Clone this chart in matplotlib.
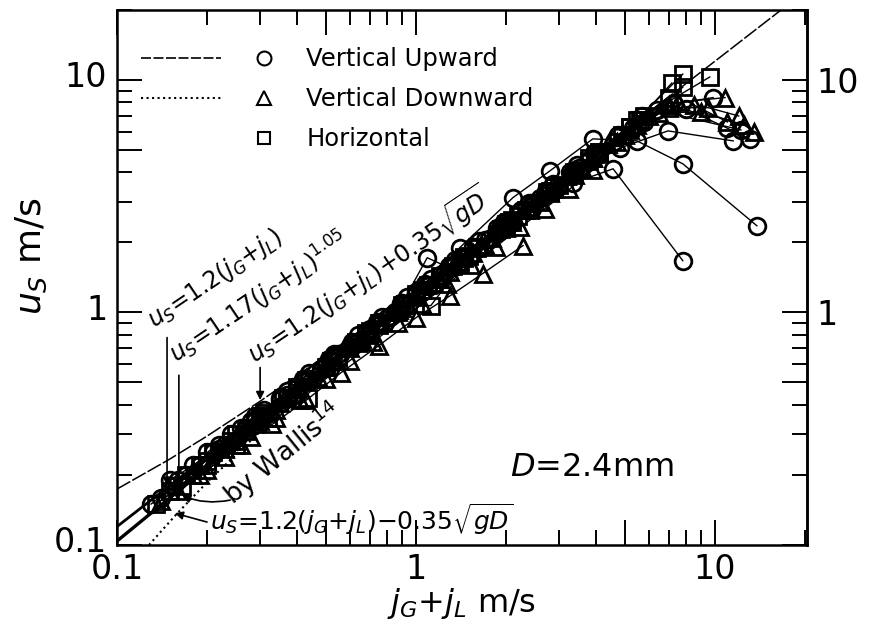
import matplotlib
matplotlib.use('Agg')
import matplotlib.pyplot as plt
import matplotlib.transforms as mtransforms
from matplotlib.lines import Line2D
from matplotlib.ticker import LogLocator, FuncFormatter, NullFormatter

# ---- correlation lines ----
j_plus = [0.1, 0.15, 0.2, 0.3, 0.5, 1.0, 2.0, 5.0, 10.0, 17.0]
us_plus = [0.174, 0.234, 0.294, 0.414, 0.654, 1.254, 2.454, 6.054, 12.05, 20.45]

j_12 = [0.1, 0.3, 1.0, 3.0, 7.0]
us_12 = [0.12, 0.36, 1.2, 3.6, 8.4]

j_wallis = [0.1, 0.3, 1.0, 3.0, 7.0]
us_wallis = [0.104, 0.331, 1.17, 3.33, 8.0]

j_minus = [0.128, 0.14, 0.16, 0.2, 0.3, 0.5, 1.0, 2.0, 5.0, 7.0]
us_minus = [0.1, 0.114, 0.138, 0.186, 0.306, 0.546, 1.146, 2.35, 5.95, 8.35]

# ---- measured data: vertical upward (circles) ----
up_x = [
    [0.14, 0.17, 0.21, 0.27, 0.35, 0.46, 0.6, 0.8, 1.05, 1.4, 1.85, 2.5, 3.35, 4.56, 7.8],
    [0.2, 0.28, 0.4, 0.55, 0.75, 1.0, 1.4, 2.11, 2.8, 3.9, 5.48, 7.8, 13.8],
    [0.3, 0.42, 0.6, 0.85, 1.2, 1.7, 2.4, 3.3, 4.81, 6.96, 11.5],
    [0.5, 0.7, 1.0, 1.4, 2.0, 2.8, 4.0, 5.8, 8.0, 11.0, 13.1],
    [0.9, 1.09, 1.3, 1.9, 2.7, 3.8, 5.3, 7.3, 9.85],
    [0.13, 0.155, 0.19, 0.23, 0.29, 0.37, 0.48, 0.63, 0.82, 1.1, 1.45, 1.95, 2.6, 3.5, 4.6],
    [0.16, 0.22, 0.31, 0.44, 0.62, 0.88, 1.25, 1.75, 2.45, 3.4, 4.7, 6.4, 12.2],
    [0.15, 0.18, 0.22, 0.26, 0.31, 0.37, 0.44, 0.53, 0.64, 0.77, 0.93, 1.12, 1.35, 1.63,
     1.97, 2.38, 2.87, 3.46],
    [0.24, 0.29, 0.35, 0.42, 0.51, 0.61, 0.74, 0.89, 1.07, 1.29, 1.55, 1.87, 2.25, 2.71,
     3.26, 3.93, 4.73, 5.7],
]
up_y = [
    [0.16, 0.2, 0.25, 0.32, 0.42, 0.55, 0.71, 0.95, 1.22, 1.65, 2.2, 2.95, 3.6, 4.15, 1.67],
    [0.25, 0.34, 0.48, 0.66, 0.9, 1.22, 1.9, 3.12, 4.06, 5.58, 5.47, 4.36, 2.36],
    [0.36, 0.5, 0.72, 1.0, 1.45, 2.05, 2.85, 3.9, 5.1, 6.04, 5.47],
    [0.6, 0.85, 1.2, 1.72, 2.4, 3.3, 4.7, 6.6, 7.5, 6.2, 5.55],
    [1.1, 1.72, 1.55, 2.25, 3.2, 4.5, 6.2, 7.9, 8.4],
    [0.15, 0.18, 0.22, 0.27, 0.34, 0.44, 0.57, 0.74, 0.97, 1.3, 1.72, 2.3, 3.1, 4.2, 5.4],
    [0.19, 0.26, 0.36, 0.52, 0.74, 1.04, 1.5, 2.08, 2.95, 4.1, 5.7, 7.4, 6.1],
    [0.19, 0.22, 0.27, 0.32, 0.38, 0.46, 0.55, 0.66, 0.8, 0.96, 1.16, 1.4, 1.68, 2.02,
     2.44, 2.95, 3.56, 4.3],
    [0.3, 0.36, 0.43, 0.52, 0.63, 0.75, 0.91, 1.1, 1.32, 1.59, 1.91, 2.3, 2.77, 3.34,
     4.0, 4.84, 5.8, 7.0],
]

# ---- measured data: vertical downward (triangles) ----
down_x = [
    [0.15, 0.2, 0.26, 0.33, 0.43, 0.56, 0.75, 1.0, 1.3, 1.67, 2.28],
    [0.18, 0.25, 0.35, 0.5, 0.7, 1.0, 1.4, 2.0, 2.8, 3.9, 5.5, 7.5, 10.8],
    [0.3, 0.45, 0.65, 0.9, 1.3, 1.8, 2.6, 3.6, 5.0, 7.0, 9.5, 12.0],
    [0.6, 0.85, 1.2, 1.7, 2.4, 3.4, 4.7, 6.5, 9.0, 12.5, 13.5],
    [0.14, 0.18, 0.23, 0.29, 0.38, 0.5, 0.66, 0.88, 1.15, 1.55, 2.1, 2.9, 3.9, 5.2, 7.0],
    [0.25, 0.34, 0.47, 0.64, 0.87, 1.2, 1.65, 2.3, 3.2, 4.4, 6.0, 8.5, 11.0],
    [0.16, 0.19, 0.23, 0.28, 0.34, 0.41, 0.5, 0.6, 0.72, 0.87, 1.05, 1.27, 1.53, 1.85,
     2.23, 2.7, 3.25, 3.9],
]
down_y = [
    [0.17, 0.21, 0.27, 0.33, 0.42, 0.55, 0.72, 0.95, 1.18, 1.47, 1.94],
    [0.21, 0.29, 0.41, 0.59, 0.82, 1.17, 1.62, 2.3, 3.25, 4.6, 6.4, 8.0, 8.4],
    [0.34, 0.52, 0.76, 1.05, 1.5, 2.1, 3.0, 4.2, 5.8, 7.6, 7.6, 7.0],
    [0.7, 1.0, 1.4, 1.95, 2.75, 3.9, 5.4, 7.2, 7.3, 6.4, 6.0],
    [0.155, 0.2, 0.26, 0.33, 0.44, 0.58, 0.77, 1.02, 1.34, 1.8, 2.45, 3.4, 4.6, 6.1, 7.8],
    [0.28, 0.38, 0.53, 0.74, 1.0, 1.4, 1.95, 2.75, 3.85, 5.3, 7.0, 7.8, 6.6],
    [0.17, 0.2, 0.24, 0.29, 0.35, 0.42, 0.52, 0.62, 0.75, 0.9, 1.09, 1.32, 1.6, 1.92,
     2.32, 2.8, 3.38, 4.1],
]

# ---- measured data: horizontal (squares) ----
hor_x = [
    [0.135, 0.165, 0.2, 0.25, 0.32, 0.435],
    [0.2, 0.27, 0.37, 0.5, 0.68, 0.92, 1.12, 1.5, 2.1, 2.9, 4.0, 5.5, 7.17],
    [0.4, 0.55, 0.75, 1.0, 1.4, 2.0, 2.8, 3.8, 5.2, 7.8],
    [0.7, 1.0, 1.45, 2.05, 2.9, 4.1, 5.8, 9.6],
    [0.15, 0.19, 0.24, 0.31, 0.4, 0.52, 0.68, 0.9, 1.2, 1.6, 2.2, 3.0, 4.1, 5.6, 7.8],
    [0.3, 0.4, 0.55, 0.75, 1.05, 1.45, 2.0, 2.75, 3.8, 5.2, 7.0],
    [0.17, 0.21, 0.25, 0.3, 0.36, 0.43, 0.52, 0.63, 0.76, 0.92, 1.1, 1.33, 1.6, 1.93,
     2.33, 2.8, 3.38, 4.08, 4.9],
]
hor_y = [
    [0.15, 0.18, 0.22, 0.27, 0.35, 0.43],
    [0.23, 0.31, 0.43, 0.58, 0.8, 1.08, 1.07, 1.75, 2.5, 3.5, 4.8, 6.7, 9.7],
    [0.47, 0.64, 0.88, 1.18, 1.65, 2.35, 3.3, 4.5, 6.3, 10.6],
    [0.83, 1.2, 1.72, 2.45, 3.45, 4.9, 7.0, 10.3],
    [0.17, 0.22, 0.28, 0.37, 0.48, 0.62, 0.82, 1.08, 1.44, 1.92, 2.6, 3.55, 4.9, 6.7, 9.3],
    [0.35, 0.47, 0.65, 0.9, 1.25, 1.74, 2.4, 3.3, 4.6, 6.3, 8.4],
    [0.2, 0.25, 0.3, 0.36, 0.43, 0.51, 0.62, 0.75, 0.9, 1.09, 1.31, 1.58, 1.9, 2.29,
     2.76, 3.32, 4.0, 4.83, 5.8],
]

legend_labels = ['Vertical Upward', 'Vertical Downward', 'Horizontal']

fig = plt.figure(figsize=(8.7, 6.23), dpi=100)
ax = fig.add_axes([0.1345, 0.1252, 0.7931, 0.8588])

# correlation lines
ax.plot(j_plus, us_plus, color='black', lw=1.1, dashes=(10, 1.5))
ax.plot(j_12, us_12, color='black', lw=2.0)
ax.plot(j_wallis, us_wallis, color='black', lw=2.4)
ax.plot(j_minus, us_minus, color='black', lw=1.5, ls=':')

# data series
mk = dict(color='black', lw=1.0, mfc='none', mew=2.0)
for xs, ys in zip(up_x, up_y):
    ax.plot(xs, ys, marker='o', ms=12, **mk)
for xs, ys in zip(down_x, down_y):
    ax.plot(xs, ys, marker='^', ms=12, **mk)
for xs, ys in zip(hor_x, hor_y):
    ax.plot(xs, ys, marker='s', ms=11, **mk)

ax.set_xscale('log')
ax.set_yscale('log')
ax.set_xlim(0.1, 20.3)
ax.set_ylim(0.1, 20)

def decade_fmt(v, pos):
    if v in (0.1, 1.0, 10.0):
        return f'{v:g}'
    return ''

for axis in (ax.xaxis, ax.yaxis):
    axis.set_major_locator(LogLocator(base=10, subs=(1.0, 5.0)))
    axis.set_minor_locator(LogLocator(base=10, subs=(2, 3, 4, 6, 7, 8, 9)))
    axis.set_major_formatter(FuncFormatter(decade_fmt))
    axis.set_minor_formatter(NullFormatter())

ax.tick_params(which='both', direction='in', top=True, right=False, width=1.4,
               labelsize=24)
ax.tick_params(axis='x', pad=6)
ax.tick_params(axis='y', pad=7)
ax.tick_params(which='major', length=18)
ax.tick_params(which='minor', length=11)
for sp in ax.spines.values():
    sp.set_linewidth(1.8)

# right-hand scale: only 1 and 10 are labelled
sec = ax.secondary_yaxis('right')
sec.yaxis.set_major_locator(LogLocator(base=10, subs=(1.0, 5.0)))
sec.yaxis.set_minor_locator(LogLocator(base=10, subs=(2, 3, 4, 6, 7, 8, 9)))
sec.yaxis.set_major_formatter(FuncFormatter(lambda v, p: f'{v:g}' if v in (1.0, 10.0) else ''))
sec.yaxis.set_minor_formatter(NullFormatter())
sec.tick_params(which='both', direction='in', width=1.4, labelsize=24, pad=7)
sec.tick_params(which='major', length=18)
sec.tick_params(which='minor', length=11)
sec.spines['right'].set_linewidth(1.8)

ax.set_xlabel(r'$j_G$+$j_L$ m/s', fontsize=23, va='bottom')
ax.xaxis.set_label_coords(0.5, -0.142)
ax.set_ylabel(r'$u_S$ m/s', fontsize=26)
ax.yaxis.set_label_coords(-0.098, 0.54)

# legend: line styles in the first column, symbols in the second
h_lines = [Line2D([], [], color='black', lw=1.2, dashes=(6, 1.5)),
           Line2D([], [], color='black', lw=1.5, ls=':'),
           Line2D([], [], color='none')]
h_marks = [Line2D([], [], color='black', ls='none', marker=m, ms=s, mfc='none', mew=1.5)
           for m, s in (('o', 10), ('^', 10), ('s', 9))]
ax.legend(h_lines + h_marks, ['', '', ''] + legend_labels, ncol=2, frameon=False,
          loc='upper left', bbox_to_anchor=(0.035, 0.93), fontsize=17.5,
          handlelength=3.3, handletextpad=0.1, columnspacing=0.0,
          labelspacing=0.65, borderpad=0, borderaxespad=0, numpoints=1)

# annotations
arrow = dict(arrowstyle='-|>', color='black', lw=1.2, mutation_scale=12,
             shrinkA=0, shrinkB=0)
ax.annotate('', xy=(0.147, 0.18), xytext=(0.147, 0.78), arrowprops=arrow)
ax.annotate('', xy=(0.161, 0.175), xytext=(0.161, 0.537), arrowprops=arrow)
ax.annotate('', xy=(0.301, 0.42), xytext=(0.301, 0.58), arrowprops=arrow)
ax.annotate('', xy=(0.165, 0.163), xytext=(0.239, 0.156),
            arrowprops=dict(arrow, connectionstyle='arc3,rad=-0.15'))
ax.annotate('', xy=(0.156, 0.137), xytext=(0.2, 0.1255), arrowprops=arrow)

txt = dict(fontsize=17, rotation_mode='anchor', ha='left', va='baseline')
ax.text(0.133, 0.86, r'$u_S$=1.2($j_G$+$j_L$)', rotation=34, **txt)
ax.text(0.158, 0.6, r'$u_S$=1.17($j_G$+$j_L$)$^{1.05}$', rotation=34, **txt)
ax.text(0.29, 0.6, r'$u_S$=1.2($j_G$+$j_L$)+0.35$\sqrt{gD}$', rotation=34, **txt)
ax.text(0.245, 0.147, r'by Wallis$^{14}$', rotation=39, fontsize=19,
        rotation_mode='anchor', ha='left', va='baseline')
ax.text(0.205, 0.116, r'$u_S$=1.2($j_G$+$j_L$)$-$0.35$\sqrt{gD}$', fontsize=18,
        ha='left', va='baseline')
ax.text(2.06, 0.216, r'$D$=2.4mm', fontsize=23, ha='left', va='center')

# nudge the left tick labels up a little, as in the original
fig.canvas.draw()
lift = mtransforms.ScaledTranslation(0, 4 / 72, fig.dpi_scale_trans)
for lab in ax.get_yticklabels():
    lab.set_transform(lab.get_transform() + lift)

fig.savefig('out.png', dpi=100)
